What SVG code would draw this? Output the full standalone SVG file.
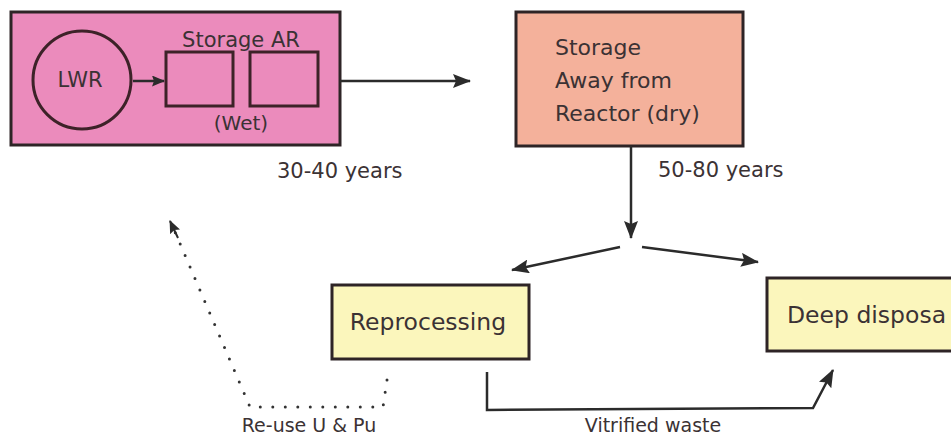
<svg xmlns="http://www.w3.org/2000/svg" width="951" height="439" viewBox="0 0 951 439">
<style>
  text { font-family: "DejaVu Sans", "Liberation Sans", sans-serif; fill: #3b3234; }
  .box { stroke: #2e2426; stroke-width: 3; }
  .con { fill: none; stroke: #2b2b2b; stroke-width: 2.5; }
  .dot { fill: none; stroke: #333; stroke-width: 3; stroke-linecap: round; stroke-dasharray: 0 12.5; }
</style>
<defs>
  <marker id="ah" viewBox="0 0 18 14" refX="17" refY="7" markerWidth="18" markerHeight="14" markerUnits="userSpaceOnUse" orient="auto">
    <path d="M0,0 L18,7 L0,14 L3,7 z" fill="#2b2b2b"/>
  </marker>
  <marker id="ahs" viewBox="0 0 13 11" refX="12" refY="5.5" markerWidth="13" markerHeight="11" markerUnits="userSpaceOnUse" orient="auto">
    <path d="M0,0 L13,5.5 L0,11 L2,5.5 z" fill="#2b2b2b"/>
  </marker>
</defs>
<rect width="951" height="439" fill="#ffffff"/>

<g id="reactor-site">
  <rect class="box" x="11" y="12" width="329" height="133" fill="#eb8bbc" stroke="#3d2228"/>
  <g id="lwr">
    <circle cx="82" cy="80" r="49" fill="none" stroke="#3d2228" stroke-width="3"/>
    <text x="80" y="87" font-size="21" text-anchor="middle">LWR</text>
  </g>
  <g id="storage-ar">
    <text x="241" y="47" font-size="21" text-anchor="middle">Storage AR</text>
    <rect x="166" y="52" width="67" height="54" fill="none" stroke="#3d2228" stroke-width="3"/>
    <rect x="250" y="52" width="68" height="54" fill="none" stroke="#3d2228" stroke-width="3"/>
    <text x="241" y="130" font-size="20" text-anchor="middle">(Wet)</text>
  </g>
</g>

<g id="storage-dry">
  <rect class="box" x="516" y="12" width="227" height="134" fill="#f4b19b"/>
  <text x="555" y="55" font-size="22">Storage</text>
  <text x="555" y="88" font-size="22">Away from</text>
  <text x="555" y="121" font-size="22">Reactor (dry)</text>
</g>

<g id="reprocessing">
  <rect class="box" x="332" y="285" width="197" height="74" fill="#fbf6bc"/>
  <text x="428" y="330" font-size="23.5" text-anchor="middle">Reprocessing</text>
</g>

<g id="deep-disposal">
  <rect class="box" x="767" y="278" width="200" height="73" fill="#fbf6bc"/>
  <text x="787" y="323" font-size="23.5">Deep disposa</text>
</g>

<g id="connectors">
  <line class="con" x1="133" y1="81" x2="164" y2="81" marker-end="url(#ahs)"/>
  <line class="con" x1="340" y1="81" x2="470" y2="81" marker-end="url(#ah)"/>
  <line class="con" x1="631" y1="146" x2="631" y2="238" marker-end="url(#ah)"/>
  <line class="con" x1="620" y1="247" x2="512" y2="270" marker-end="url(#ah)"/>
  <line class="con" x1="642" y1="247" x2="758" y2="262" marker-end="url(#ah)"/>
  <polyline class="con" points="487,372 487,410 813,408 833,370" marker-end="url(#ah)"/>
  <polyline class="dot" points="387,380 383,407 250,407 172,225"/>
  <line x1="178" y1="238" x2="170" y2="221" stroke="#2b2b2b" stroke-width="2" marker-end="url(#ahs)"/>
  <text x="277" y="178" font-size="21">30-40 years</text>
  <text x="658" y="177" font-size="21">50-80 years</text>
  <text x="653" y="432" font-size="19" text-anchor="middle">Vitrified waste</text>
  <text x="309" y="432" font-size="19" text-anchor="middle">Re-use U &amp; Pu</text>
</g>
</svg>
